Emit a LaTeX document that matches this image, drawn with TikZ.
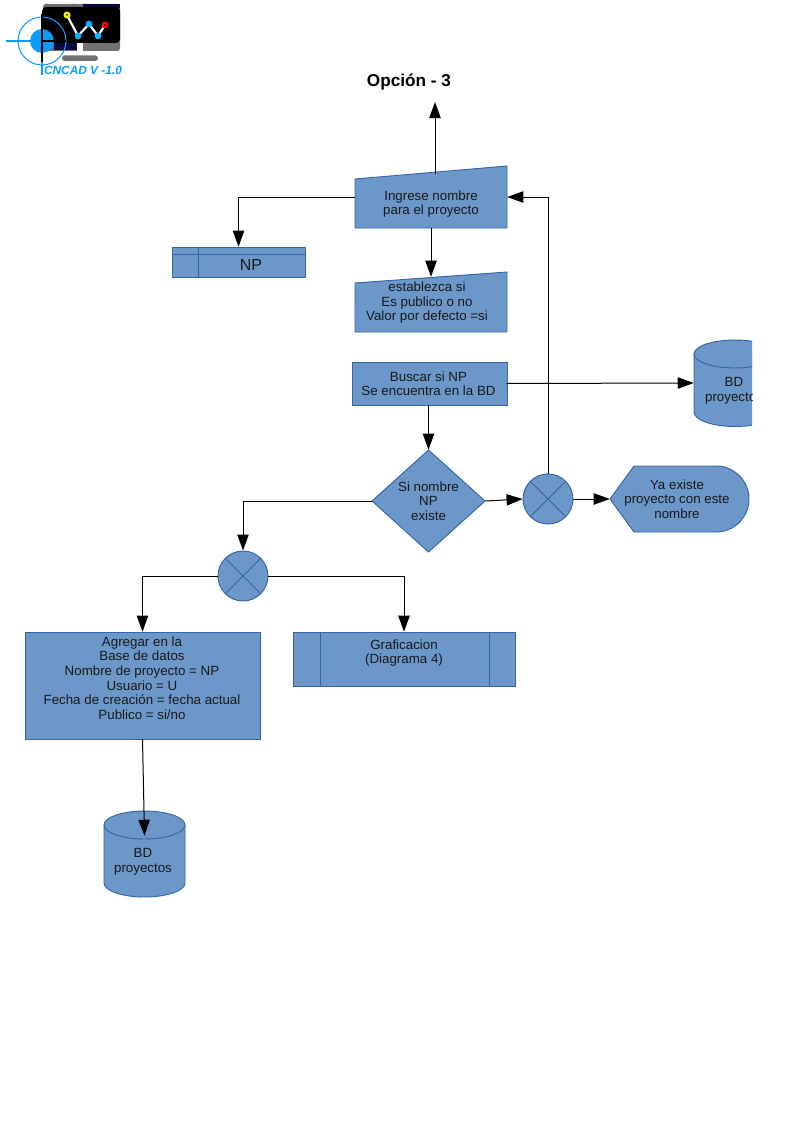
\documentclass[tikz,border=0pt]{standalone}
\usepackage{fontspec}
\setmainfont{Liberation Sans}
\usetikzlibrary{arrows.meta,calc}
\definecolor{bluefill}{HTML}{6C97C9}
\definecolor{blueline}{HTML}{3465A4}
\definecolor{logocyan}{HTML}{0A9CFF}
\definecolor{logogray}{HTML}{707070}
\definecolor{logonavy}{HTML}{0A0A40}
\tikzset{
  shapefill/.style={fill=bluefill,draw=blueline,line width=0.7pt},
  lbl/.style={inner sep=0pt,align=center,font=\fontsize{10}{10.9}\selectfont,text=black!90},
  anchorbox/.style 2 args={draw=none,inner sep=0pt,minimum width=#1*0.75pt,minimum height=#2*0.75pt},
  conn/.style={draw=black,line width=0.75pt,-{Triangle[length=12pt,width=8.5pt]}},
  xorline/.style={draw=blueline,line width=0.7pt},
  zig/.style={draw=white,line width=1.6pt},
}
\begin{document}
\begin{tikzpicture}[x=0.75pt,y=-0.75pt]
\useasboundingbox (0,0) rectangle (795,1124);
% ---- logo
\fill[logogray,rounded corners=2pt] (43,4) rectangle (120,51);
\fill[logonavy] (83,4) rectangle (120,8);
\fill[black,rounded corners=3pt] (42,7) rectangle (120,43);
\fill[logonavy] (54,43) rectangle (77,50);
\fill[white] (77,43) rectangle (83,52);
\fill[white] (77,0) rectangle (83,4);
\fill[logogray,rounded corners=2pt] (62,55.5) rectangle (98,61);
\draw[logocyan,line width=0.8pt] (42,41) circle[radius=24];
\fill[logocyan] (42,41) circle[radius=12];
\draw[logocyan,line width=0.8pt] (6,41) -- (66,41);
\draw[logocyan,line width=0.8pt] (42,14) -- (42,75);
\draw[black,line width=0.8pt] (42,14) -- (42,62);
\draw[black,line width=0.8pt] (42,41) -- (66,41);
\draw[zig] (68,17) -- (78,36) -- (89,24) -- (98,36) -- (105,25);
\fill[yellow] (67,15) circle[radius=3.5];
\fill[black] (67,15) circle[radius=1];
\fill[logocyan!80!cyan] (78,36) circle[radius=3.4];
\fill[logocyan!80!cyan] (89,24) circle[radius=3.4];
\fill[logocyan!80!cyan] (98,36) circle[radius=3.4];
\fill[red] (105,25) circle[radius=3.5];
\fill[black] (105,25) circle[radius=1];
\node[inner sep=0pt,text=logocyan,font=\fontsize{8.9}{10}\selectfont\bfseries\itshape] (logotext) at (83,70) {CNCAD V -1.0};
% ---- title
\node[inner sep=0pt,font=\fontsize{12.9}{14}\selectfont\bfseries] (title) at (409,82) {Opción - 3};
\coordinate (titlefoot) at (435,102);
\coordinate (ingtop) at (435,174);
% ---- shapes
\draw[shapefill] (355,179) -- (507,166) -- (507,228) -- (355,228) -- cycle;
\node[anchorbox={152}{62}] (ing) at (431,197) {};
\node[lbl] (ingtext) at (431,204) {Ingrese nombre\\para el proyecto};
\draw[shapefill] (172,247) rectangle (305,277);
\draw[xorline] (198,247) -- (198,277) (172,254) -- (305,254);
\node[anchorbox={133}{30}] (np) at (238.5,262) {};
\node[inner sep=0pt,font=\fontsize{12}{14}\selectfont,text=black!90] (nptext) at (251,265) {NP};
\draw[shapefill] (355,283) -- (507,272) -- (507,332) -- (355,332) -- cycle;
\node[anchorbox={152}{50}] (est) at (431,302) {};
\node[lbl] (esttext) at (427,303) {establezca si\\Es publico o no\\Valor por defecto =si};
\draw[shapefill] (352,362) rectangle (507,405);
\node[lbl,anchorbox={155}{43}] (bus) at (428.5,383.5) {Buscar si NP\\Se encuentra en la BD};
\begin{scope}
\clip (680,330) rectangle (752,440);
\draw[shapefill] (694,354) -- (694,412) arc[start angle=180,end angle=0,x radius=41,y radius=14.5] -- (776,354);
\draw[shapefill] (735,354) ellipse[x radius=41,y radius=14];
\node[anchorbox={82}{40}] (bd1) at (735,383) {};
\node[lbl] (bd1text) at (734,391) {BD\\proyectos};
\end{scope}
\draw[shapefill] (428.5,450) -- (485,501) -- (428.5,552) -- (372,501) -- cycle;
\node[lbl,anchorbox={113}{102}] (dec) at (428.5,501) {Si nombre\\NP\\existe};
\node[circle,shapefill,minimum size=50*0.75pt,inner sep=0pt] (xa) at (548,499) {};
\draw[xorline] (xa.45) -- (xa.225) (xa.135) -- (xa.315);
\draw[shapefill] (610,499) -- (634,466) -- (716,466) arc[start angle=-90,end angle=90,radius=33] -- (634,532) -- cycle;
\node[anchorbox={139}{66}] (ya) at (679.5,499) {};
\node[lbl] (yatext) at (677,499) {Ya existe\\proyecto con este\\nombre};
\node[circle,shapefill,minimum size=50*0.75pt,inner sep=0pt] (xb) at (243,576) {};
\draw[xorline] (xb.45) -- (xb.225) (xb.135) -- (xb.315);
\draw[shapefill] (25,632) rectangle (260,739);
\node[anchorbox={235}{107}] (agr) at (142.5,685.5) {};
\node[lbl] (agrtext) at (142,678) {Agregar en la\\Base de datos\\Nombre de proyecto = NP\\Usuario = U\\Fecha de creación = fecha actual\\Publico = si/no};
\draw[shapefill] (293,632) rectangle (515,686);
\draw[xorline] (320,632) -- (320,686) (489,632) -- (489,686);
\node[anchorbox={222}{54}] (gra) at (404,659) {};
\node[lbl] (gratext) at (404,653) {Graficacion\\(Diagrama 4)};
\draw[shapefill] (104,825) -- (104,883) arc[start angle=180,end angle=0,x radius=40.5,y radius=14] -- (185,825);
\draw[shapefill] (144.5,825) ellipse[x radius=40.5,y radius=14];
\node[anchorbox={81}{50}] (bd2) at (144.5,861) {};
\node[lbl] (bd2text) at (143,862) {BD\\proyectos};
% ---- connectors
\draw[conn] (ingtop) -- (titlefoot);
\draw[conn] (ing.west) -| (np.north);
\draw[conn] (ing.south) -- (est.north);
\draw[conn] (bus.east) -- (bd1.west);
\draw[conn] (bus.south) -- (dec.north);
\draw[conn] (dec.east) -- (xa.west);
\draw[conn] (xa.east) -- (ya.west);
\draw[conn] (xa.north) |- (ing.east);
\draw[conn] (dec.west) -| (xb.north);
\draw[conn] (xb.west) -| (agr.north);
\draw[conn] (xb.east) -| (gra.north);
\draw[conn] (agr.south) -- (bd2.north);
\end{tikzpicture}
\end{document}
